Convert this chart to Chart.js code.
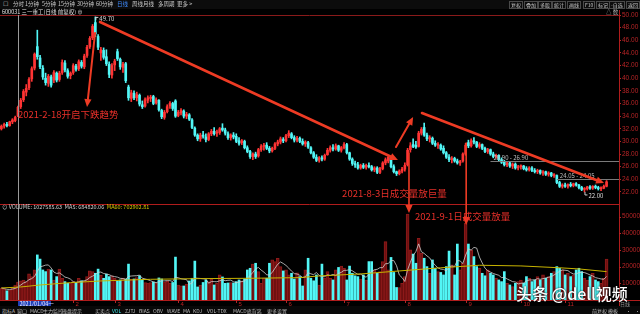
<!DOCTYPE html>
<html><head><meta charset="utf-8">
<script src="https://cdn.jsdelivr.net/npm/chart.js@4.4.0/dist/chart.umd.min.js"></script>
<style>
html,body{margin:0;padding:0;background:#000;width:640px;height:314px;overflow:hidden;}
#wrap{position:relative;width:640px;height:314px;background:#000;font-family:"Noto Sans CJK SC","Liberation Sans",sans-serif;overflow:hidden;}
.t{position:absolute;white-space:nowrap;font-size:5.5px;line-height:7px;color:#c8c8c8;}
.b{position:absolute;white-space:nowrap;font-size:5px;line-height:6px;color:#c8c8c8;border:1px solid #4a4a4a;padding:0 1px;top:1px;}
#cbox{position:absolute;left:0;top:10px;width:640px;height:296px;}
#wm{position:absolute;left:516px;top:283px;font-size:16px;line-height:20px;color:#fff;font-weight:500;white-space:nowrap;text-shadow:0 0 2px #000;}
</style></head><body><div id="wrap">
<div id="top" style="position:absolute;left:0;top:0;width:640px;height:9px;background:#0c0c0c;"></div>
<div id="cbox"><canvas id="cv" width="640" height="296"></canvas></div>
<div id="bot" style="position:absolute;left:0;top:306px;width:640px;height:8px;background:#080808;"></div>
<div id="wm">头条 @dell视频</div>
</div>
<script>
// ---------------- data ----------------
const opens = [
32.0,32.4,32.7,32.5,33.1,33.3,34.0,35.5,36.6,37.8,38.5,39.9,41.6,45.0,43.2,41.6,40.0,39.2,40.2,
39.7,40.8,39.8,40.9,42.4,41.2,40.4,40.9,41.9,41.5,42.5,41.8,43.6,45.0,46.4,48.8,46.6,44.0,
44.4,43.4,42.2,40.5,42.1,44.2,43.0,41.7,42.3,38.6,36.8,
37.6,36.9,37.3,35.8,35.6,36.5,36.8,37.1,36.1,36.5,
34.9,33.8,34.7,35.6,36.0,36.4,34.1,34.5,34.8,34.0,
34.2,33.4,32.1,31.0,30.4,31.0,30.7,30.3,31.2,31.6,
31.3,31.4,32.1,31.8,31.2,30.6,31.0,30.8,30.1,29.8,
30.0,29.0,28.4,27.6,28.0,27.7,28.7,
29.2,29.4,28.9,28.5,28.9,29.6,29.9,30.3,30.1,30.9,
31.2,30.6,30.2,30.5,30.0,29.6,29.8,29.0,28.2,27.5,
27.0,27.4,27.2,
27.9,28.6,29.0,28.8,29.3,28.6,
29.0,29.5,28.2,27.2,26.5,26.3,25.8,26.2,25.9,26.2,
26.0,25.5,25.8,25.1,25.7,26.6,26.9,27.4,26.0,
25.2,24.9,25.3,25.6,26.3,28.7,29.5,29.4,29.2,31.3,
32.2,31.0,30.4,30.5,29.7,29.4,29.4,
28.9,28.2,27.5,27.1,27.3,26.9,26.6,26.9,28.0,29.8,29.3,30.1,
29.9,29.2,29.5,28.9,28.4,28.7,28.0,27.6,27.8,27.1,
26.7,26.3,26.6,26.1,26.4,25.8,
26.0,26.1,25.7,25.5,25.8,25.4,25.2,25.4,25.0,25.2,
24.8,25.0,24.6,24.6,23.5,22.9,23.1,22.9,23.2,23.0,
23.3,23.1,22.7,22.4,22.5,22.8,22.6,22.9,22.7,22.5,
22.6,22.9];
const highs = [
32.6,32.9,33.0,33.2,33.6,34.0,35.6,36.8,38.2,39.0,40.1,41.8,44.0,47.6,43.6,42.0,40.8,40.6,40.5,
41.2,41.0,41.1,42.9,42.8,41.5,41.0,42.3,42.2,42.9,42.8,43.8,45.2,46.6,48.5,49.7,46.9,44.9,
44.8,44.5,42.6,42.3,43.0,44.6,43.2,42.5,42.5,38.9,38.1,
38.0,37.8,37.5,36.4,36.9,37.2,37.3,37.3,36.9,36.6,
35.1,34.9,35.8,36.3,36.2,36.6,34.9,35.2,35.0,34.6,
34.4,33.6,32.3,31.2,31.3,31.6,31.2,31.4,31.9,32.2,
31.8,32.2,32.8,32.1,31.5,31.2,31.4,31.2,30.6,30.3,
30.2,29.3,28.6,28.2,28.3,28.9,29.5,
29.7,29.8,29.2,29.1,29.8,30.2,30.7,30.6,31.1,31.7,
31.4,30.9,30.8,30.7,30.4,30.1,30.0,29.2,28.4,27.9,
27.6,27.7,28.0,
28.9,29.3,29.5,29.6,29.4,29.2,
29.8,29.7,28.3,27.4,26.9,26.7,26.4,26.5,26.4,26.6,
26.2,26.0,26.0,25.9,26.8,27.4,27.8,27.6,26.3,
25.3,25.5,25.9,26.6,28.9,29.8,30.4,30.0,31.6,32.2,
32.9,31.3,30.9,30.7,30.1,29.8,29.6,
29.3,28.4,27.9,27.6,27.5,27.2,27.0,28.2,29.7,30.2,30.4,30.6,
30.0,29.8,29.6,29.1,28.9,28.8,28.3,28.0,27.9,27.4,
27.0,26.8,26.8,26.6,26.6,26.2,
26.3,26.2,26.0,26.0,26.0,25.7,25.6,25.5,25.4,25.3,
25.2,25.1,24.9,24.7,23.7,23.3,23.4,23.3,23.5,23.4,
23.5,23.2,22.9,22.7,22.9,23.0,23.0,23.1,22.9,22.8,
23.1,23.8];
const lows = [
31.8,32.1,32.3,32.4,32.8,33.1,33.9,35.2,36.3,37.2,38.2,39.5,41.3,43.0,41.5,39.8,38.9,38.7,38.6,
39.3,39.4,39.5,40.6,41.0,40.0,39.9,40.6,41.1,41.2,41.6,41.5,43.3,44.7,46.1,46.6,44.5,42.8,
43.0,42.0,40.1,40.0,41.2,42.8,41.4,40.9,39.3,36.5,36.3,
36.6,36.4,35.6,35.2,35.4,36.1,36.3,35.8,35.9,34.8,
33.6,33.5,34.5,35.2,34.9,33.8,33.9,34.2,33.7,33.6,
33.3,32.0,30.8,30.1,30.0,30.5,29.9,30.1,30.9,31.0,
30.8,31.1,31.6,31.0,30.3,30.2,30.4,29.8,29.4,29.5,
28.8,28.2,27.3,27.1,27.3,27.5,28.4,
28.6,28.7,28.2,28.3,28.7,29.3,29.6,29.8,29.9,30.6,
30.4,29.9,29.9,29.8,29.4,29.2,28.9,28.0,27.3,26.8,
26.7,26.9,27.0,
27.8,28.3,28.5,28.6,28.4,28.3,
28.8,28.0,27.0,26.2,25.9,25.6,25.6,25.7,25.6,25.8,
25.3,25.2,24.9,24.9,25.5,26.3,26.6,25.8,25.0,
24.6,24.7,25.0,25.3,26.1,28.3,29.0,28.9,29.1,31.0,
30.8,30.1,29.9,29.5,29.2,28.9,28.6,
28.0,27.3,26.8,26.6,26.7,26.4,26.2,26.7,27.8,29.0,29.1,29.6,
29.0,28.9,28.7,28.2,28.1,27.8,27.4,27.3,26.9,26.5,
26.1,26.0,25.9,25.7,25.6,25.5,
25.6,25.5,25.3,25.3,25.2,25.0,24.9,24.8,24.6,24.6,
24.5,24.4,24.3,23.3,22.7,22.6,22.7,22.6,22.8,22.8,
22.9,22.5,22.2,22.0,22.3,22.4,22.4,22.5,22.3,22.2,
22.5,22.8];
const closes = [
32.4,32.7,32.5,33.1,33.4,33.8,35.4,36.5,37.9,38.4,39.8,41.5,43.8,43.4,41.8,40.2,39.3,40.3,38.9,
40.9,39.7,40.8,42.5,41.3,40.3,40.8,42.0,41.4,42.6,41.9,43.5,44.9,46.3,48.2,47.0,44.9,44.5,
43.3,42.3,40.6,42.0,42.7,43.1,41.8,42.2,39.6,36.9,37.7,
36.9,37.4,35.9,35.5,36.6,36.9,37.0,36.0,36.6,35.0,
33.9,34.6,35.5,36.0,35.2,34.0,34.6,34.9,34.0,34.3,
33.5,32.2,31.0,30.4,31.0,30.8,30.3,31.2,31.6,31.2,
31.5,32.0,31.8,31.3,30.6,31.0,30.7,30.0,29.7,30.1,
29.0,28.4,27.6,28.0,27.6,28.7,29.2,
29.4,28.9,28.5,28.9,29.6,29.9,30.4,30.1,30.9,31.3,
30.6,30.2,30.5,30.0,29.6,29.9,29.1,28.2,27.5,27.0,
27.4,27.2,27.8,
28.6,29.0,28.8,29.3,28.6,29.0,
29.5,28.2,27.2,26.5,26.3,25.8,26.2,25.9,26.2,26.0,
25.5,25.8,25.1,25.7,26.6,27.1,27.5,26.0,25.2,
24.9,25.3,25.6,26.2,28.6,29.3,29.2,29.1,31.3,31.9,
31.0,30.4,30.6,29.7,29.4,29.5,28.8,
28.2,27.5,27.1,27.3,26.9,26.6,26.8,28.0,29.4,29.3,30.1,29.9,
29.2,29.5,28.9,28.4,28.7,28.0,27.6,27.8,27.1,26.7,
26.3,26.6,26.1,26.4,25.8,26.0,
26.1,25.7,25.5,25.8,25.4,25.2,25.4,25.0,25.2,24.8,
25.0,24.6,24.7,23.5,22.9,23.1,22.9,23.2,23.0,23.3,
23.1,22.7,22.4,22.5,22.8,22.6,22.9,22.7,22.5,22.6,
22.9,23.6];
// volume in thousands of the axis unit
const volumeK = [
7.2,6.5,5.5,6.0,7.5,9.0,10.8,11.5,12.0,11.0,15.6,14.0,18.0,27.0,24.5,18.0,17.0,18.5,18.0,
12.0,14.0,18.5,13.0,11.0,10.0,10.0,11.0,10.5,13.0,11.5,11.5,14.0,17.4,17.0,16.0,18.5,14.8,
13.0,15.5,14.0,14.5,13.0,11.4,12.0,13.2,12.5,21.5,12.6,
12.6,13.5,14.5,12.0,10.5,10.2,10.5,10.8,10.0,13.2,
12.6,10.8,11.4,10.0,10.5,25.7,9.0,8.5,8.4,9.5,
11.4,13.0,23.3,7.8,9.0,10.5,12.0,11.0,12.6,9.0,
10.0,15.0,13.8,10.0,10.2,10.5,10.2,11.0,12.0,11.5,
12.6,18.0,19.0,21.5,22.0,17.0,10.0,
13.2,13.0,22.0,24.0,23.0,25.0,20.0,17.4,18.0,15.0,
16.0,12.6,16.2,14.0,8.4,18.0,25.0,13.0,11.5,15.0,
9.0,21.5,13.0,
17.0,13.0,12.0,18.0,19.5,20.3,
19.0,12.0,20.3,16.0,14.5,14.0,12.6,15.0,12.0,23.0,
23.0,17.8,16.0,17.0,23.0,35.0,18.0,25.5,16.5,
7.5,7.5,10.0,14.0,51.5,30.0,27.5,22.0,37.0,28.0,
25.0,20.0,16.0,24.0,19.0,17.0,16.5,
15.0,20.0,29.3,21.0,15.0,33.5,18.0,22.0,46.0,33.5,30.0,26.0,
20.0,19.0,16.0,14.5,18.0,16.0,15.0,13.0,12.0,11.0,
17.0,10.0,9.0,8.0,10.0,11.0,
12.0,10.0,14.0,13.0,11.0,12.0,14.0,12.0,15.0,13.0,
14.0,16.0,17.0,20.0,19.0,18.0,15.0,16.0,14.0,15.0,
18.0,19.0,17.0,13.0,12.0,14.0,16.0,12.0,11.0,10.0,
13.0,24.5];
// MA60 of volume, read at a few positions (index, thousands)
const ma60Idx = [0,7,14,25,36,54,72,90,108,115,130,144,159,173,188,202,209,219];
const ma60Val = [7.2,7.8,9.0,10.4,11.4,12.4,12.8,13.0,13.4,14.4,15.6,17.4,19.3,20.8,20.4,19.3,18.6,17.0];

const SLOT_COUNT = 224;            // trading-day slots on the x axis
const crossIdx = 6;                // 2021/01/04
const crossLabel = '2021/01/04一';
const monthIdx = [26,41,64,85,103,124,146,168,188,204];
const monthLabels = ['2','3','4','5','6','7','8','9','10','11'];
const priceTicks = [22,24,26,28,30,32,34,36,38,40,42,44,46,48,50];
const volTicksK = [10,20,30,40,50];
const volTickLabels = ['10000','20000','30000','40000','50000'];
const peakIdx = 34, peakLabel = '49.70';
const hLines = [{from:177, price:26.90, text:'26.90 - 26.90'},{from:201, price:24.05, text:'24.05 - 24.05'}];
// annotations: points given as [index, value, axis]
const arrows = [
  {a:[35.7,48.9,'y'], b:[143.5,27.06,'y'], w:2.6},
  {a:[33.9,47.15,'y'], b:[31.0,35.44,'y'], w:2},
  {a:[142.8,29.11,'y'], b:[149.0,33.86,'y'], w:2},
  {a:[152.2,34.49,'y'], b:[218.1,23.42,'y'], w:2.6},
  {a:[147.5,28.16,'y'], b:[147.5,52.1,'yv'], w:1.6},
  {a:[168.2,29.75,'y'], b:[168.2,44.9,'yv'], w:1.6}
];
const notes = [
  {text:'2021-2-18开启下跌趋势', at:[6.0,34.34,'y']},
  {text:'2021-8-3日成交量放巨量', at:[123.3,21.84,'y']},
  {text:'2021-9-1日成交量放量', at:[149.7,50.3,'yv']}
];

// ---------------- chart ----------------
const RED = '#ff3434', CYAN = '#52f6f6', AXR = '#b82426';
const isUp = i => closes[i] >= opens[i];
const labels = Array.from({length:SLOT_COUNT}, (_, i) => 'd' + i);
const colors = closes.map((c, i) => isUp(i) ? RED : CYAN);
const ma5 = volumeK.map((_, i) => { const w = volumeK.slice(Math.max(0, i - 4), i + 1); return w.reduce((a, b) => a + b, 0) / w.length; });
const ma60 = labels.map(() => null);
ma60Idx.forEach((ix, k) => { ma60[ix] = ma60Val[k]; });

const PMAX = 50, PX_PER_UNIT = 6.32, AREA_H = 285;
const PMIN = PMAX - AREA_H / PX_PER_UNIT;
const VMAX = AREA_H / 1.67;   // thousands

const FONT = '"Noto Sans CJK SC","Liberation Sans",sans-serif';

const overlay = {
  id: 'overlay',
  afterDatasetsDraw(chart) {
    const ctx = chart.ctx, x = chart.scales.x, ca = chart.chartArea;
    const pt = p => [x.getPixelForValue(0) + p[0] * (x.getPixelForValue(1) - x.getPixelForValue(0)), chart.scales[p[2]].getPixelForValue(p[1])];
    ctx.save();
    // frame lines
    ctx.strokeStyle = '#8a1a1a'; ctx.lineWidth = 1;
    ctx.beginPath(); ctx.moveTo(0, ca.top + 0.5); ctx.lineTo(ca.right, ca.top + 0.5); ctx.stroke();
    ctx.strokeStyle = '#b01c1c';
    ctx.beginPath(); ctx.moveTo(0, 194.5); ctx.lineTo(ca.right, 194.5); ctx.stroke();
    ctx.beginPath(); ctx.moveTo(0, ca.bottom + 0.5); ctx.lineTo(640, ca.bottom + 0.5); ctx.stroke();
    ctx.beginPath(); ctx.moveTo(ca.right + 0.5, 0); ctx.lineTo(ca.right + 0.5, 296); ctx.stroke();
    // crosshair
    const cx = Math.round(x.getPixelForValue(crossIdx)) + 0.5;
    ctx.strokeStyle = '#9a9a9a';
    ctx.beginPath(); ctx.moveTo(cx, ca.top); ctx.lineTo(cx, ca.bottom); ctx.stroke();
    // horizontal price lines
    ctx.font = '6px ' + FONT; ctx.textBaseline = 'alphabetic';
    hLines.forEach(h => {
      const y = Math.round(chart.scales.y.getPixelForValue(h.price)) + 0.5;
      const x0 = x.getPixelForValue(h.from);
      ctx.strokeStyle = '#7a7a7a';
      ctx.beginPath(); ctx.moveTo(x0, y); ctx.lineTo(ca.right, y); ctx.stroke();
      ctx.fillStyle = '#bcbcbc'; ctx.fillText(h.text, x0 + 3, y - 2);
    });
    // peak label
    const px = x.getPixelForValue(peakIdx), py = chart.scales.y.getPixelForValue(highs[peakIdx]);
    ctx.strokeStyle = '#d0d0d0';
    ctx.beginPath(); ctx.moveTo(px + 0.5, py); ctx.lineTo(px + 0.5, py + 3); ctx.moveTo(px, py + 0.5); ctx.lineTo(px + 3, py + 0.5); ctx.stroke();
    ctx.fillStyle = '#dcdcdc'; ctx.fillText(peakLabel, px + 4, py + 4);
    // low label (lowest low after the peak)
    let li = peakIdx; for (let i = peakIdx; i < lows.length; i++) if (lows[i] < lows[li]) li = i;
    const lx = x.getPixelForValue(li), ly = chart.scales.y.getPixelForValue(lows[li]);
    ctx.beginPath(); ctx.moveTo(lx + 0.5, ly); ctx.lineTo(lx + 0.5, ly + 3); ctx.lineTo(lx + 3, ly + 3); ctx.stroke();
    ctx.fillText(lows[li].toFixed(2), lx + 4, ly + 6);
    // volume axis labels
    ctx.fillStyle = AXR; ctx.strokeStyle = AXR; ctx.font = '6.5px "Liberation Sans"'; ctx.textBaseline = 'middle'; ctx.textAlign = 'left';
    volTicksK.forEach((v, k) => {
      const y = chart.scales.yv.getPixelForValue(v);
      ctx.beginPath(); ctx.moveTo(ca.right, Math.round(y) + 0.5); ctx.lineTo(ca.right + 2, Math.round(y) + 0.5); ctx.stroke();
      ctx.fillText(volTickLabels[k], ca.right + 3, y);
    });
    // month labels
    ctx.font = '6px "Liberation Sans"'; ctx.textBaseline = 'top';
    monthIdx.forEach((ix, k) => {
      const mx = Math.round(x.getPixelForValue(ix)) + 0.5;
      ctx.beginPath(); ctx.moveTo(mx, ca.bottom); ctx.lineTo(mx, ca.bottom + 3); ctx.stroke();
      ctx.fillText(monthLabels[k], mx + 2, ca.bottom + 1);
    });
    // date box
    ctx.fillStyle = '#1f3fb8'; ctx.fillRect(cx - 0.5, ca.bottom + 1, 33, 6);
    ctx.fillStyle = '#e8e8ff'; ctx.font = '5.5px ' + FONT; ctx.fillText(crossLabel, cx + 1, ca.bottom + 1);
    // arrows
    ctx.strokeStyle = '#ee3b24'; ctx.fillStyle = '#ee3b24'; ctx.lineCap = 'round';
    arrows.forEach(ar => {
      const [x1, y1] = pt(ar.a), [x2, y2] = pt(ar.b);
      const ang = Math.atan2(y2 - y1, x2 - x1), L = 8, W = 3.6;
      const bx = x2 - Math.cos(ang) * L * 0.8, by = y2 - Math.sin(ang) * L * 0.8;
      ctx.lineWidth = ar.w;
      ctx.beginPath(); ctx.moveTo(x1, y1); ctx.lineTo(bx, by); ctx.stroke();
      ctx.beginPath();
      ctx.moveTo(x2, y2);
      ctx.lineTo(x2 - Math.cos(ang) * L + Math.sin(ang) * W, y2 - Math.sin(ang) * L - Math.cos(ang) * W);
      ctx.lineTo(x2 - Math.cos(ang) * L - Math.sin(ang) * W, y2 - Math.sin(ang) * L + Math.cos(ang) * W);
      ctx.closePath(); ctx.fill();
    });
    // notes
    ctx.font = '9.5px ' + FONT; ctx.textBaseline = 'middle'; ctx.fillStyle = '#e8302a';
    notes.forEach(n => { const [nx, ny] = pt(n.at); ctx.fillText(n.text, nx, ny); });
    ctx.restore();
  }
};

const chart = new Chart(document.getElementById('cv'), {
  type: 'bar',
  data: {
    labels,
    datasets: [
      {label:'wick', data: lows.map((l, i) => [l, highs[i]]), backgroundColor: colors, barThickness: 1, grouped: false, yAxisID: 'y', order: 6},
      {label:'body', data: opens.map((o, i) => [o, closes[i]]), backgroundColor: colors, barThickness: 2, minBarLength: 1, grouped: false, yAxisID: 'y', order: 5, borderSkipped: false},
      {label:'volUp', data: volumeK.map((v, i) => isUp(i) ? v : null), backgroundColor: '#6e1010', borderColor: '#8e1a1a', borderWidth: 1, barThickness: 3, grouped: false, yAxisID: 'yv', order: 4},
      {label:'volDn', data: volumeK.map((v, i) => isUp(i) ? null : v), backgroundColor: CYAN, barThickness: 2, grouped: false, yAxisID: 'yv', order: 3},
      {type:'line', label:'MA5', data: ma5, borderColor: '#cfcfcf', borderWidth: 0.8, pointRadius: 0, yAxisID: 'yv', order: 2},
      {type:'line', label:'MA60', data: ma60, borderColor: '#c8b400', borderWidth: 1, pointRadius: 0, spanGaps: true, yAxisID: 'yv', order: 1}
    ]
  },
  options: {
    responsive: false, animation: false, devicePixelRatio: 1,
    layout: {padding: {top: 5, bottom: 6, left: 0, right: 0}},
    plugins: {legend: {display: false}, tooltip: {enabled: false}},
    scales: {
      x: {type: 'category', display: false, offset: true, grid: {display: false}},
      y: {
        position: 'right', min: PMIN, max: PMAX,
        afterFit(s) { s.width = 21; },
        afterBuildTicks(s) { s.ticks = priceTicks.map(v => ({value: v})); },
        ticks: {color: AXR, font: {size: 6.5, family: 'Liberation Sans'}, padding: 1, autoSkip: false, callback: v => Number(v).toFixed(2)},
        grid: {drawOnChartArea: false, color: AXR, tickLength: 2},
        border: {display: false}
      },
      yv: {display: false, min: 0, max: VMAX}
    }
  },
  plugins: [overlay]
});

// ---------------- chrome (toolbar / tabs) ----------------
const wrap = document.getElementById('wrap');
function addText(txt, x, y, color, cls) {
  const d = document.createElement('div'); d.className = cls || 't'; d.textContent = txt;
  d.style.left = x + 'px'; if (y !== null) d.style.top = y + 'px'; if (color) d.style.color = color; wrap.appendChild(d); return d;
}
const toolLeft = [['☐',3],['分时',13],['1分钟',25],['5分钟',42],['15分钟',58],['30分钟',77],['60分钟',96],['日线',117,'#3f8cff'],['周线',132],['月线',143],['多周期',158],['更多 >',177]];
toolLeft.forEach(t => addText(t[0], t[1], 1, t[2]));
const toolRight = [['复权',509],['叠加',524],['多股',538],['统计',552],['画线',567],['F10',583],['标记',596],['-自选',609],['返回',626]];
toolRight.forEach(t => addText(t[0], t[1], null, '#c8c8c8', 'b'));
addText('600031 三一重工(日线 前复权) ⊕', 2, 9, '#e0e0e0');
addText('△ 数', 606, 9, '#aaaaaa');
const volHdr = addText('', 2, 204, '#d0d0d0');
volHdr.innerHTML = '⊙ VOLUME: 1027585.63&nbsp; MA5: 684820.06&nbsp; <span style="color:#d8c800">MA60: 702902.81</span>';
volHdr.style.fontSize = '5.5px';
const tabs = [['指标A',2],['窗口',17],['MACD',30],['主力监控',43],['操盘提示',62],['买卖点',95],['VOL',112,'#3ee8e8'],['ZJTJ',125],['BIAS',139],['OBV',153],['WAVE',167],['MA',183],['KDJ',193],['VOL-TDX',207],['MACD底背离',233],['更多',267],['设置',277],['前复权 模板',592],['·',626],['·',635]];
tabs.forEach(t => { const d = addText(t[0], t[1], 307, t[2] || '#bdbdbd'); d.style.fontSize = '5px'; });
addText('日线', 620, 300, '#9a9a9a').style.fontSize = '5px';
</script>
</body></html>
